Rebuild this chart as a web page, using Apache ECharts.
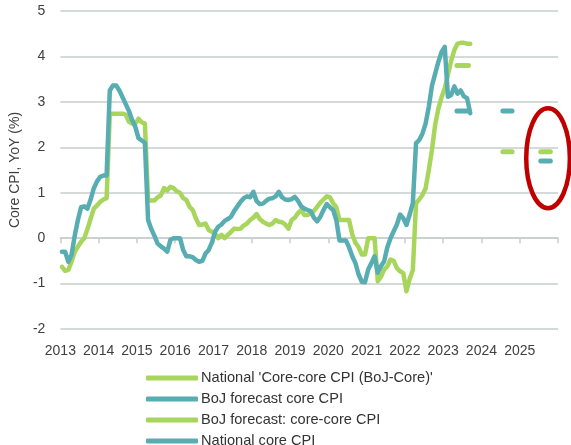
<!DOCTYPE html>
<html>
<head>
<meta charset="utf-8">
<script src="https://cdn.jsdelivr.net/npm/echarts@6/dist/echarts.min.js"></script>
<style>
  html, body { margin: 0; padding: 0; background: #fff; }
  #chart { width: 571px; height: 445px; }
</style>
</head>
<body>
<div id="chart"></div>
<script>
// monthly YoY %, Jan 2013 onwards
const startYear = 2013
const yearTicks = [2013, 2014, 2015, 2016, 2017, 2018, 2019, 2020, 2021, 2022, 2023, 2024, 2025]

const coreCoreCpi = [
  -0.63, -0.72, -0.7, -0.52, -0.3, -0.19, -0.08, 0.0, 0.2, 0.43, 0.65, 0.72,
  0.8, 0.85, 0.88, 2.74, 2.74, 2.74, 2.74, 2.74, 2.72, 2.56, 2.52, 2.52,
  2.63, 2.55, 2.52, 0.83, 0.83, 0.83, 0.9, 0.94, 1.1, 1.05, 1.13, 1.1,
  1.03, 1.0, 0.88, 0.84, 0.69, 0.62, 0.43, 0.29, 0.3, 0.32, 0.18, 0.14,
  0.1, 0.0, 0.07, 0.0, 0.07, 0.14, 0.21, 0.2, 0.21, 0.28, 0.32, 0.4,
  0.45, 0.53, 0.42, 0.36, 0.32, 0.29, 0.32, 0.4, 0.36, 0.35, 0.3, 0.21,
  0.4, 0.45, 0.55, 0.62, 0.51, 0.51, 0.54, 0.6, 0.69, 0.78, 0.85, 0.92,
  0.9, 0.77, 0.68, 0.4, 0.4, 0.4, 0.4, 0.08, -0.1, -0.2, -0.36, -0.36,
  0.0, 0.0, 0.0, -0.95, -0.85, -0.69, -0.62, -0.47, -0.5, -0.66, -0.73, -0.77,
  -1.17, -0.9, -0.7, 0.77, 0.85, 0.95, 1.1, 1.5, 1.95, 2.5, 2.85, 3.1,
  3.3, 3.6, 3.9, 4.14, 4.28, 4.3, 4.3, 4.28, 4.28
]

const coreCpi = [
  -0.3, -0.3, -0.52, -0.37, 0.05, 0.4, 0.68, 0.7, 0.65, 0.85, 1.1, 1.25,
  1.35, 1.38, 1.38, 3.25, 3.36, 3.36, 3.25, 3.1, 2.95, 2.8, 2.6, 2.45,
  2.2, 2.15, 2.1, 0.4, 0.2, 0.05, -0.12, -0.18, -0.23, -0.3, -0.04, 0.0,
  0.0, 0.0, -0.26, -0.4, -0.4, -0.42, -0.48, -0.52, -0.5, -0.34, -0.26, -0.1,
  0.14, 0.25, 0.3, 0.38, 0.42, 0.47, 0.6, 0.7, 0.8, 0.88, 0.92, 0.9,
  1.02, 0.82, 0.75, 0.76, 0.82, 0.87, 0.88, 0.92, 1.02, 0.9, 0.85, 0.84,
  0.86, 0.91, 0.82, 0.7, 0.65, 0.62, 0.59, 0.45, 0.37, 0.47, 0.62, 0.75,
  0.68, 0.62, 0.4, -0.05, -0.05, -0.05, -0.2, -0.4, -0.55, -0.8, -0.96, -0.97,
  -0.69, -0.55, -0.4, -0.76, -0.62, -0.51, -0.2, 0.0, 0.15, 0.3, 0.52, 0.44,
  0.29, 0.52, 0.77, 2.09, 2.16, 2.3, 2.52, 2.89, 3.36, 3.62, 3.88, 4.1,
  4.21, 3.11, 3.15, 3.34, 3.18, 3.25, 3.12, 3.08, 2.75
]

// BoJ outlook, one short dash per fiscal year
const fcStart = [2023.36, 2024.56, 2025.55]
const fcEnd = [2023.66, 2024.8, 2025.8]
const fcCoreCpi = [2.8, 2.8, 1.7]
const fcCoreCoreCpi = [3.8, 1.9, 1.9]

// red ring round the FY2025 forecasts (data units)
const callout = { x: 2025.74, y: 1.76, rx: 0.57, ry: 1.1 }

const green = '#a8d55b'
const teal = '#57adb1'
const gridColor = '#c6cece'
const labelColor = '#404040'
const font = 'Arial, "Liberation Sans", sans-serif'

const monthly = arr => arr.map((v, i) => [startYear + (i + 0.5) / 12, v])
const dashes = vals => vals.flatMap((v, i) => [[fcStart[i], v], [fcEnd[i], v], [fcEnd[i] + 0.05, '-']])

const lineSeries = (name, data, color, width) => ({
  name: name,
  type: 'line',
  data: data,
  showSymbol: false,
  symbol: 'none',
  connectNulls: false,
  color: color,
  lineStyle: { color: color, width: width, cap: 'round', join: 'round' }
})

var myChart = echarts.init(document.getElementById('chart'))
var option = {
  animation: false,
  grid: { left: 55, right: 13, top: 11, bottom: 116 },
  legend: {
    orient: 'vertical',
    left: 146,
    top: 370,
    height: 100,
    padding: 0,
    itemWidth: 52,
    itemHeight: 5,
    itemGap: 5,
    icon: 'roundRect',
    selectedMode: false,
    textStyle: { fontSize: 14.6, color: '#333', fontFamily: font, lineHeight: 16, padding: [0, 0, 0, -2] },
    data: ["National 'Core-core CPI (BoJ-Core)'", 'BoJ forecast core CPI', 'BoJ forecast: core-core CPI', 'National core CPI']
  },
  xAxis: [
    {
      type: 'value',
      min: 2013,
      max: 2026,
      interval: 1,
      position: 'bottom',
      axisLine: { onZero: true, lineStyle: { color: gridColor, width: 1.5 } },
      axisTick: { show: true, length: 5, lineStyle: { color: gridColor, width: 1.5 } },
      axisLabel: { show: false },
      splitLine: { show: false }
    },
    {
      type: 'value',
      min: 2013,
      max: 2026,
      interval: 1,
      position: 'bottom',
      axisLine: { show: false, onZero: false },
      axisTick: { show: false },
      splitLine: { show: false },
      axisLabel: {
        margin: 15,
        fontSize: 14,
        color: labelColor,
        fontFamily: font,
        formatter: v => yearTicks.includes(v) ? String(v) : ''
      }
    }
  ],
  yAxis: {
    type: 'value',
    min: -2,
    max: 5,
    interval: 1,
    name: 'Core CPI, YoY (%)',
    nameLocation: 'middle',
    nameGap: 25,
    nameTextStyle: { fontSize: 14, color: labelColor, fontFamily: font },
    axisLine: { show: false },
    axisTick: { show: false },
    axisLabel: { margin: 15, fontSize: 14, color: labelColor, fontFamily: font },
    splitLine: { lineStyle: { color: gridColor, width: 1.5 } }
  },
  series: [
    lineSeries("National 'Core-core CPI (BoJ-Core)'", monthly(coreCoreCpi), green, 4.5),
    lineSeries('BoJ forecast core CPI', dashes(fcCoreCpi), teal, 5),
    lineSeries('BoJ forecast: core-core CPI', dashes(fcCoreCoreCpi), green, 5),
    lineSeries('National core CPI', monthly(coreCpi), teal, 4.5)
  ]
}
myChart.setOption(option)

// callout ellipse placed from data coordinates
const c = myChart.convertToPixel({ gridIndex: 0 }, [callout.x, callout.y])
const e = myChart.convertToPixel({ gridIndex: 0 }, [callout.x + callout.rx, callout.y - callout.ry])
myChart.setOption({
  graphic: [{
    type: 'ellipse',
    shape: { cx: c[0], cy: c[1], rx: e[0] - c[0], ry: e[1] - c[1] },
    style: { fill: 'none', stroke: '#c00000', lineWidth: 4.5 },
    z: 100
  }]
})
</script>
</body>
</html>
